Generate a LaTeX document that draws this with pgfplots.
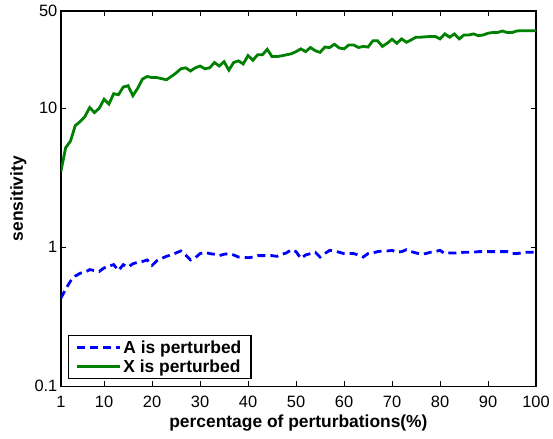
\documentclass[border=0pt]{standalone}
\usepackage{fontspec}
\setmainfont{Liberation Sans}
\usepackage{pgfplots}
\pgfplotsset{compat=1.18}
\usepackage{pgfplotstable}
\definecolor{mgreen}{rgb}{0,0.5,0}
\pgfplotstableread{
x y
1 3.5
2 5.2
3 5.8
4 7.5
5 8.0
6 8.7
7 10.1
8 9.3
9 10.0
10 11.6
11 10.7
12 12.7
13 12.5
14 14.2
15 14.5
16 12.3
17 13.9
18 16.2
19 16.9
20 16.6
21 16.6
22 16.3
23 16.0
24 16.9
25 17.9
26 19.2
27 19.5
28 18.5
29 19.5
30 20.1
31 19.2
32 19.5
33 21.3
34 20.1
35 21.6
36 18.8
37 21.3
38 21.9
39 20.8
40 23.9
41 22.1
42 24.2
43 24.2
44 26.5
45 23.5
46 23.5
47 23.8
48 24.2
49 24.6
50 25.5
51 26.7
52 25.5
53 27.3
54 25.9
55 25.2
56 27.5
57 27.3
58 28.8
59 27.1
60 26.7
61 28.5
62 28.5
63 27.3
64 27.8
65 27.5
66 30.5
67 30.5
68 27.8
69 29.3
70 31.3
71 29.3
72 31.5
73 29.8
74 31.0
75 32.4
76 32.4
77 32.6
78 32.8
79 32.8
80 31.5
81 34.2
82 32.4
83 34.2
84 31.5
85 33.6
86 33.6
87 34.2
88 33.2
89 33.6
90 34.6
91 35.0
92 35.0
93 35.9
94 35.0
95 35.0
96 35.9
97 36.1
98 36.1
99 36.1
100 36.1
}\Xdata
\pgfplotstableread{
x y
1 0.43
2 0.50
3 0.57
4 0.62
5 0.65
6 0.66
7 0.69
8 0.68
9 0.67
10 0.71
11 0.73
12 0.75
13 0.68
14 0.75
15 0.72
16 0.76
17 0.78
18 0.79
19 0.81
20 0.74
21 0.80
22 0.83
23 0.86
24 0.88
25 0.91
26 0.94
27 0.88
28 0.81
29 0.84
30 0.90
31 0.92
32 0.90
33 0.89
34 0.87
35 0.89
36 0.90
37 0.88
38 0.85
39 0.85
40 0.84
41 0.85
42 0.87
43 0.87
44 0.87
45 0.87
46 0.86
47 0.89
48 0.91
49 0.96
50 0.93
51 0.83
52 0.88
53 0.90
54 0.92
55 0.85
56 0.90
57 0.95
58 0.94
59 0.92
60 0.90
61 0.90
62 0.90
63 0.88
64 0.85
65 0.90
66 0.91
67 0.93
68 0.94
69 0.94
70 0.95
71 0.92
72 0.93
73 0.96
74 0.93
75 0.91
76 0.89
77 0.90
78 0.92
79 0.93
80 0.95
81 0.90
82 0.91
83 0.91
84 0.91
85 0.92
86 0.92
87 0.92
88 0.93
89 0.93
90 0.93
91 0.93
92 0.93
93 0.93
94 0.93
95 0.90
96 0.90
97 0.91
98 0.92
99 0.92
100 0.92
}\Adata
\begin{document}
\begin{tikzpicture}
\begin{axis}[
  scale only axis,
  width=476bp, height=376bp,
  ymode=log,
  xmin=1, xmax=100,
  ymin=0.1, ymax=50,
  xtick={1,10,20,30,40,50,60,70,80,90,100},
  xticklabels={1,10,20,30,40,50,60,70,80,90,100},
  ytick={0.1,1,10,50},
  yticklabels={0.1,1,10,50},
  tick align=inside,
  major tick length=5bp,
  minor tick length=3bp,
  axis line style={line width=1.3bp},
  every tick/.style={black, line width=0.6bp},
  tick label style={font=\fontsize{16.5}{18}\selectfont},
  xticklabel style={anchor=base, yshift=-21bp},
  /pgf/number format/assume math mode=true,
  xlabel={\bfseries percentage of perturbations(\%)},
  ylabel={\bfseries sensitivity},
  label style={font=\fontsize{17.5}{19}\selectfont},
  xlabel style={at={(axis description cs:0.5,0)}, anchor=base, yshift=-41bp},
  ylabel style={at={(axis description cs:-0.08,0.5)}, anchor=base, rotate=0},
  legend style={at={(0,0)}, anchor=south west, xshift=6.7bp, yshift=7bp,
    draw=black, line width=1.3bp, fill=white,
    font=\fontsize{17.5}{19}\selectfont\bfseries,
    inner xsep=7.5bp, inner ysep=3bp, row sep=1bp},
  legend cell align=left,
  legend image code/.code={\draw[#1] (0bp,0bp) -- (43bp,0bp);},
  clip=true,
]
\addplot[blue, line width=2.8bp, dash pattern=on 8bp off 5bp] table[x=x,y=y] {\Adata};
\addlegendentry{A is perturbed}
\addplot[mgreen, line width=2.8bp] table[x=x,y=y] {\Xdata};
\addlegendentry{X is perturbed}
\end{axis}
\path (current axis.south west) ++(-61bp,-52bp) rectangle ++(553bp,439bp);
\end{tikzpicture}
\end{document}
